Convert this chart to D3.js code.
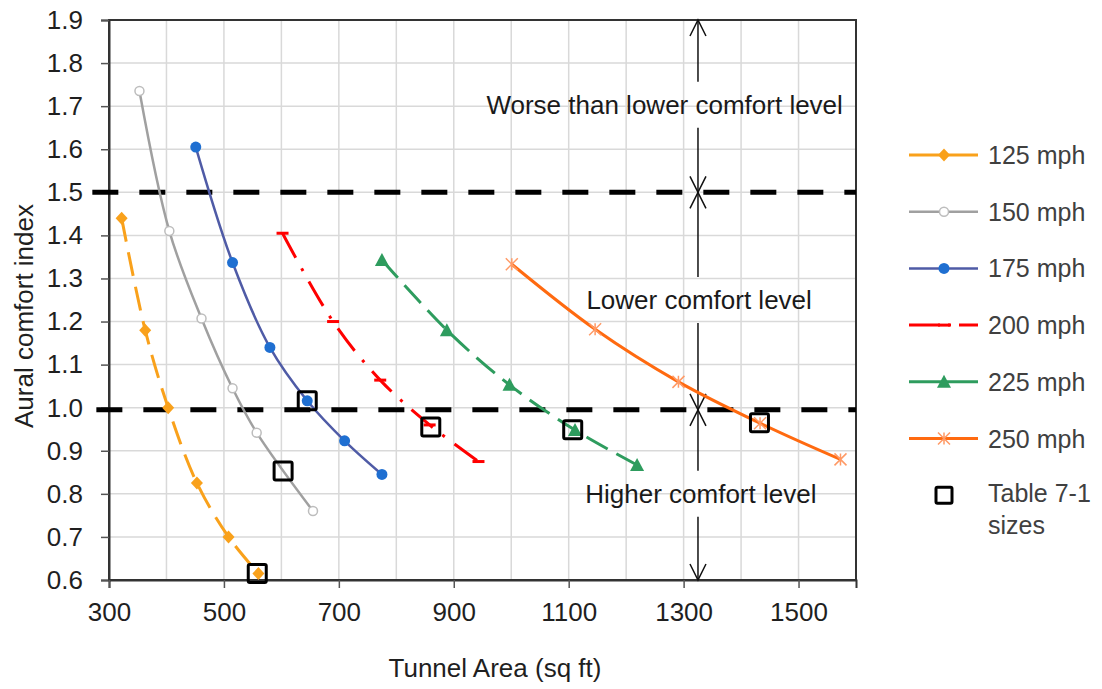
<!DOCTYPE html>
<html>
<head>
<meta charset="utf-8">
<script src="https://cdn.jsdelivr.net/npm/d3@7"></script>
<style>
  html, body { margin: 0; padding: 0; background: #fff; }
  svg { display: block; font-family: "Liberation Sans", Arial, sans-serif; }
</style>
</head>
<body>
<svg id="chart" width="1102" height="689"></svg>
<script>
// Aural comfort index versus tunnel cross-section, one curve per train speed
const speedNames = ["125 mph", "150 mph", "175 mph", "200 mph", "225 mph", "250 mph"];

const area125 = [322, 363, 403, 453, 508, 560];
const index125 = [1.44, 1.18, 1.00, 0.825, 0.70, 0.615];

const area150 = [353, 405, 461, 515, 557, 655];
const index150 = [1.735, 1.41, 1.207, 1.045, 0.942, 0.76];

const area175 = [451, 515, 580, 645, 710, 775];
const index175 = [1.605, 1.337, 1.14, 1.016, 0.923, 0.845];

const area200 = [602, 690, 772, 858, 943];
const index200 = [1.405, 1.20, 1.064, 0.96, 0.875];

const area225 = [775, 888, 997, 1111, 1219];
const index225 = [1.343, 1.18, 1.053, 0.948, 0.867];

const area250 = [1001, 1146, 1291, 1433, 1573];
const index250 = [1.333, 1.182, 1.06, 0.964, 0.88];

// Sizes listed in Table 7-1
const tableArea = [558, 603, 645, 860, 1107, 1432];
const tableIndex = [0.615, 0.853, 1.016, 0.955, 0.949, 0.965];

// Comfort thresholds and zone annotations
const limitLevels = [1.5, 0.995];
const limitStartArea = [271, 278];
const zoneLabels = ["Worse than lower comfort level", "Lower comfort level", "Higher comfort level"];
const zoneTop = [1.9, 1.5, 0.995];
const zoneBottom = [1.5, 0.995, 0.6];
const zoneLabelArea = [1267, 1327, 1330];
const zoneLabelIndex = [1.703, 1.25, 0.80];
const arrowArea = 1325;

// Axis ticks
const xTickValues = [300, 500, 700, 900, 1100, 1300, 1500];
const xGridValues = d3.range(300, 1601, 100);
const yTickValues = d3.range(6, 20).map(v => v / 10);

const areas = [area125, area150, area175, area200, area225, area250];
const indices = [index125, index150, index175, index200, index225, index250];

const styles = [
  { line: "#F9A11B", marker: "#F9A11B", width: 3, dash: "24,11", shape: "diamond" },
  { line: "#A0A0A0", marker: "#BDBDBD", width: 2.5, dash: null, shape: "openCircle" },
  { line: "#4F5BA6", marker: "#1F6FD1", width: 2.5, dash: null, shape: "circle" },
  { line: "#FF0000", marker: "#FF0000", width: 3, dash: "28,12,3,12", shape: "dash" },
  { line: "#2E9C5E", marker: "#2E9C5E", width: 3, dash: "24,10", shape: "triangle" },
  { line: "#FF6A10", marker: "#FF9A66", width: 3, dash: null, shape: "star" }
];

const svg = d3.select("#chart");
const plotLeft = 109, plotRight = 856, plotTop = 20, plotBottom = 580;

const x = d3.scaleLinear().domain([300, 1600]).range([plotLeft, plotRight]);
const y = d3.scaleLinear().domain([0.6, 1.9]).range([plotBottom, plotTop]);

// Gridlines
const grid = svg.append("g").attr("stroke", "#D9D9D9").attr("stroke-width", 1.5);
grid.selectAll(".gx").data(xGridValues).join("line")
  .attr("x1", d => x(d)).attr("x2", d => x(d))
  .attr("y1", plotTop).attr("y2", plotBottom);
grid.selectAll(".gy").data(yTickValues).join("line")
  .attr("x1", plotLeft).attr("x2", plotRight)
  .attr("y1", d => y(d)).attr("y2", d => y(d));

// Plot frame
svg.append("rect")
  .attr("x", plotLeft).attr("y", plotTop)
  .attr("width", plotRight - plotLeft).attr("height", plotBottom - plotTop)
  .attr("fill", "none").attr("stroke", "#333").attr("stroke-width", 2);

// Axes
const yAxis = svg.append("g").attr("transform", `translate(${plotLeft},0)`)
  .call(d3.axisLeft(y).tickValues(yTickValues).tickSize(8).tickPadding(18).tickFormat(d3.format(".1f")));
const xAxis = svg.append("g").attr("transform", `translate(0,${plotBottom})`)
  .call(d3.axisBottom(x).tickValues(xTickValues).tickSize(8).tickPadding(15).tickFormat(d3.format("d")));
[yAxis, xAxis].forEach(g => {
  g.select(".domain").attr("stroke", "#333").attr("stroke-width", 2);
  g.selectAll(".tick line").attr("stroke", "#555").attr("stroke-width", 1.5);
  g.selectAll(".tick text").attr("fill", "#1f1f1f").style("font-size", "26px")
    .style("font-family", '"Liberation Sans", Arial, sans-serif');
});

// Axis titles
svg.append("text")
  .attr("x", 495).attr("y", 677)
  .attr("text-anchor", "middle")
  .attr("fill", "#1f1f1f").style("font-size", "26px")
  .text("Tunnel Area (sq ft)");
svg.append("text")
  .attr("transform", "translate(33,316) rotate(-90)")
  .attr("text-anchor", "middle")
  .attr("fill", "#1f1f1f").style("font-size", "26px")
  .text("Aural comfort index");

// Threshold lines
const limits = svg.append("g");
limits.selectAll("line").data(limitLevels).join("line")
  .attr("x1", (d, i) => x(limitStartArea[i])).attr("x2", x(1600))
  .attr("y1", d => y(d)).attr("y2", d => y(d))
  .attr("stroke", "#000").attr("stroke-width", 5)
  .attr("stroke-dasharray", "26,21");

// Zone arrows and labels
function arrowHead(g, px, py, dir) {
  // dir = -1 points up, +1 points down
  g.append("path")
    .attr("d", `M${px - 8},${py - dir * 16} L${px},${py} L${px + 8},${py - dir * 16}`)
    .attr("fill", "none").attr("stroke", "#111").attr("stroke-width", 1.5);
}
const zones = svg.append("g");
zoneLabels.forEach((label, i) => {
  const ax = x(arrowArea);
  const yt = y(zoneTop[i]), yb = y(zoneBottom[i]);
  const yl = y(zoneLabelIndex[i]);
  const gap = 23;
  zones.append("line").attr("x1", ax).attr("x2", ax).attr("y1", yt).attr("y2", yl - gap)
    .attr("stroke", "#111").attr("stroke-width", 1.5);
  zones.append("line").attr("x1", ax).attr("x2", ax).attr("y1", yl + gap).attr("y2", yb)
    .attr("stroke", "#111").attr("stroke-width", 1.5);
  arrowHead(zones, ax, yt, -1);
  arrowHead(zones, ax, yb, 1);
  zones.append("text")
    .attr("x", x(zoneLabelArea[i])).attr("y", yl)
    .attr("text-anchor", "middle").attr("dominant-baseline", "central")
    .attr("fill", "#1a1a1a").style("font-size", "26px")
    .text(label);
});

// Marker drawing
function drawMarker(g, shape, color, px, py) {
  if (shape === "diamond") {
    g.append("path").attr("d", `M${px},${py - 6.5} L${px + 6},${py} L${px},${py + 6.5} L${px - 6},${py} Z`)
      .attr("fill", color);
  } else if (shape === "openCircle") {
    g.append("circle").attr("cx", px).attr("cy", py).attr("r", 4.5)
      .attr("fill", "#fff").attr("stroke", color).attr("stroke-width", 1.5);
  } else if (shape === "circle") {
    g.append("circle").attr("cx", px).attr("cy", py).attr("r", 5.5).attr("fill", color);
  } else if (shape === "dash") {
    g.append("line").attr("x1", px - 6).attr("x2", px + 6).attr("y1", py).attr("y2", py)
      .attr("stroke", color).attr("stroke-width", 3);
  } else if (shape === "triangle") {
    g.append("path").attr("d", `M${px},${py - 7} L${px + 7},${py + 6} L${px - 7},${py + 6} Z`)
      .attr("fill", color);
  } else if (shape === "star") {
    const r = 6;
    g.append("path")
      .attr("d", `M${px},${py - r} L${px},${py + r} M${px - r},${py - r} L${px + r},${py + r} M${px - r},${py + r} L${px + r},${py - r}`)
      .attr("stroke", color).attr("stroke-width", 1.5).attr("fill", "none");
  }
}

// Speed curves (centripetal spline keeps long end segments close to straight)
const lineGen = d3.line().x(d => x(d[0])).y(d => y(d[1])).curve(d3.curveCatmullRom.alpha(0.5));
const curves = svg.append("g");
speedNames.forEach((name, i) => {
  const pts = areas[i].map((a, j) => [a, indices[i][j]]);
  const st = styles[i];
  curves.append("path").datum(pts)
    .attr("d", lineGen)
    .attr("fill", "none").attr("stroke", st.line).attr("stroke-width", st.width)
    .attr("stroke-dasharray", st.dash);
  const mg = curves.append("g");
  pts.forEach(p => drawMarker(mg, st.shape, st.marker, x(p[0]), y(p[1])));
});

// Table 7-1 sizes
svg.append("g").selectAll("rect").data(tableArea).join("rect")
  .attr("x", (d) => x(d) - 9).attr("y", (d, i) => y(tableIndex[i]) - 9)
  .attr("width", 18).attr("height", 18).attr("rx", 1.5)
  .attr("fill", "none").attr("stroke", "#000").attr("stroke-width", 3);

// Legend
const legend = svg.append("g");
const lx0 = 909, lx1 = 978, lmx = 944, ltx = 988, ly0 = 155, lstep = 56.7;
speedNames.forEach((name, i) => {
  const st = styles[i];
  const ly = ly0 + i * lstep;
  legend.append("line").attr("x1", lx0).attr("x2", lx1).attr("y1", ly).attr("y2", ly)
    .attr("stroke", st.line).attr("stroke-width", st.width)
    .attr("stroke-dasharray", i === 3 ? "31,8,3,8" : null);
  drawMarker(legend, st.shape, st.marker, lmx, ly);
  legend.append("text").attr("x", ltx).attr("y", ly).attr("dominant-baseline", "central")
    .attr("fill", "#404040").style("font-size", "25px").text(name);
});
const tly = ly0 + 6 * lstep;
legend.append("rect").attr("x", lmx - 8).attr("y", tly - 8).attr("width", 16).attr("height", 16)
  .attr("rx", 1.5).attr("fill", "none").attr("stroke", "#000").attr("stroke-width", 3);
legend.append("text").attr("x", ltx).attr("y", tly - 2).attr("dominant-baseline", "central")
  .attr("fill", "#404040").style("font-size", "25px").text("Table 7-1");
legend.append("text").attr("x", ltx).attr("y", tly + 30).attr("dominant-baseline", "central")
  .attr("fill", "#404040").style("font-size", "25px").text("sizes");
</script>
</body>
</html>
